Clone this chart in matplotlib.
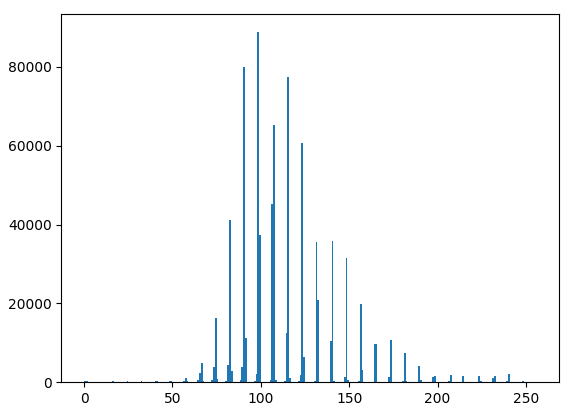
import numpy as np
import matplotlib
matplotlib.use("Agg")
import matplotlib.pyplot as plt

# pixel value bins and their counts
bin_values = [0, 1, 16, 24, 32, 40, 41, 48, 49,
              56, 57, 58, 64, 65, 66, 67, 72, 73, 74, 75,
              80, 81, 82, 83, 88, 89, 90, 91, 96, 97, 98, 99,
              105, 106, 107, 108, 113, 114, 115, 116,
              121, 122, 123, 124, 130, 131, 132, 139, 140, 141,
              147, 148, 149, 155, 156, 157, 164, 165, 172, 173,
              180, 181, 182, 189, 190, 197, 198, 206, 207, 214,
              223, 224, 231, 232, 239, 240, 248]
counts = [290, 240, 240, 240, 240, 290, 290, 290, 290,
          195, 1160, 290, 630, 2420, 4940, 290, 580, 3920, 16360, 870,
          435, 4450, 41240, 2900, 485, 3920, 80050, 11330, 290, 2130, 88860, 37360,
          580, 45300, 65340, 485, 390, 12580, 77440, 1065,
          290, 1890, 60690, 6490, 390, 35620, 20910, 10550, 35910, 390,
          1400, 31560, 630, 290, 19940, 3190, 9780, 9780, 1400, 10740,
          390, 7450, 390, 4160, 630, 1400, 1650, 290, 1890, 1650,
          1650, 290, 1160, 1650, 390, 2130, 290]

fig = plt.figure(figsize=(5.8, 4.11), dpi=100)
ax = fig.add_axes([0.106, 0.07, 0.858, 0.895])
ax.hist(bin_values, bins=np.arange(257), weights=counts)

fig.savefig("out.png")
